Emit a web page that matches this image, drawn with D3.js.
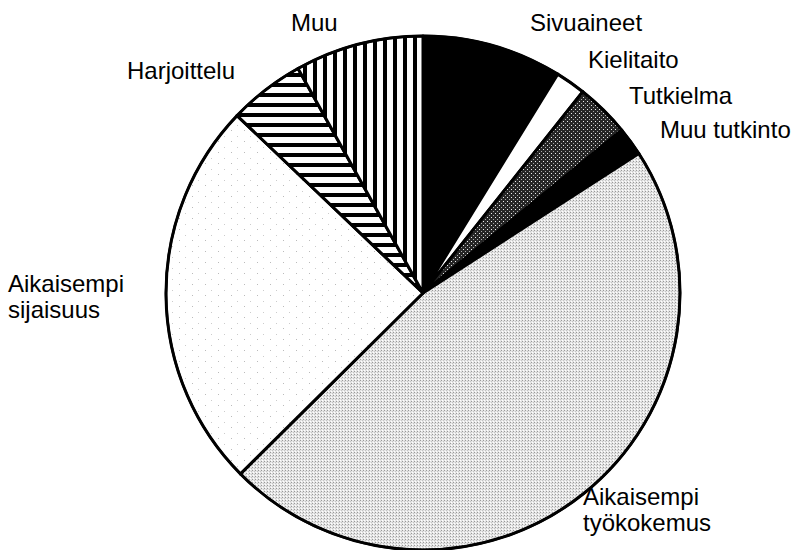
<!DOCTYPE html>
<html>
<head>
<meta charset="utf-8">
<script src="https://cdn.jsdelivr.net/npm/d3@7"></script>
<style>
  body { margin: 0; background: #fff; }
  text { font-family: "Liberation Sans", Arial, Helvetica, sans-serif; fill: #000; }
</style>
</head>
<body>
<div id="chart"></div>
<script>
// shares (percent), clockwise from 12 o'clock
const categories = ["Sivuaineet", "Kielitaito", "Tutkielma", "Muu tutkinto",
    "Aikaisempi työkokemus", "Aikaisempi sijaisuus", "Harjoittelu", "Muu"]
const values = [8.8, 1.9, 3.4, 1.8, 46.8, 24.6, 4.8, 8.1]

// fill for every slice (pattern ids or colours)
const fills = ["#000", "#fff", "url(#darkDots)", "#000",
    "url(#lightDots)", "url(#specks)", "url(#hStripes)", "url(#vStripes)"]

// label layout: lines, x, first baseline
const labelPos = {
    "Sivuaineet": { lines: ["Sivuaineet"], x: 530, y: 31 },
    "Kielitaito": { lines: ["Kielitaito"], x: 588, y: 68 },
    "Tutkielma": { lines: ["Tutkielma"], x: 629, y: 104 },
    "Muu tutkinto": { lines: ["Muu tutkinto"], x: 660, y: 138 },
    "Aikaisempi työkokemus": { lines: ["Aikaisempi", "työkokemus"], x: 583, y: 505 },
    "Aikaisempi sijaisuus": { lines: ["Aikaisempi", "sijaisuus"], x: 8, y: 292 },
    "Harjoittelu": { lines: ["Harjoittelu"], x: 127, y: 79 },
    "Muu": { lines: ["Muu"], x: 291, y: 31 }
}

const W = 806, H = 550
const CX = 423, CY = 293, R = 257

const svg = d3.select("#chart").append("svg")
    .attr("width", W)
    .attr("height", H)

const defs = svg.append("defs")

// vertical stripes
const vs = defs.append("pattern").attr("id", "vStripes")
    .attr("patternUnits", "userSpaceOnUse").attr("width", 10).attr("height", 10)
vs.append("rect").attr("width", 10).attr("height", 10).attr("fill", "#fff")
vs.append("rect").attr("x", 0).attr("width", 4).attr("height", 10).attr("fill", "#000")

// horizontal stripes
const hs = defs.append("pattern").attr("id", "hStripes")
    .attr("patternUnits", "userSpaceOnUse").attr("width", 10).attr("height", 10)
hs.append("rect").attr("width", 10).attr("height", 10).attr("fill", "#fff")
hs.append("rect").attr("y", 0).attr("width", 10).attr("height", 4).attr("fill", "#000")

// dark stipple
const dd = defs.append("pattern").attr("id", "darkDots")
    .attr("patternUnits", "userSpaceOnUse").attr("width", 4).attr("height", 4)
dd.append("rect").attr("width", 4).attr("height", 4).attr("fill", "#262626")
dd.append("rect").attr("x", 0).attr("y", 0).attr("width", 1).attr("height", 1).attr("fill", "#eee")
dd.append("rect").attr("x", 2).attr("y", 2).attr("width", 1).attr("height", 1).attr("fill", "#aaa")

// light stipple
const ld = defs.append("pattern").attr("id", "lightDots")
    .attr("patternUnits", "userSpaceOnUse").attr("width", 3).attr("height", 3)
ld.append("rect").attr("width", 3).attr("height", 3).attr("fill", "#e6e6e6")
ld.append("rect").attr("x", 0).attr("y", 0).attr("width", 1).attr("height", 1).attr("fill", "#999")
ld.append("rect").attr("x", 2).attr("y", 1).attr("width", 1).attr("height", 1).attr("fill", "#c4c4c4")
ld.append("rect").attr("x", 1).attr("y", 2).attr("width", 1).attr("height", 1).attr("fill", "#fff")

// sparse specks
const sp = defs.append("pattern").attr("id", "specks")
    .attr("patternUnits", "userSpaceOnUse").attr("width", 13).attr("height", 11)
sp.append("rect").attr("width", 13).attr("height", 11).attr("fill", "#fff")
sp.append("rect").attr("x", 3).attr("y", 2).attr("width", 1).attr("height", 1).attr("fill", "#bbb")
sp.append("rect").attr("x", 9).attr("y", 8).attr("width", 1).attr("height", 1).attr("fill", "#ccc")

const g = svg.append("g")
    .attr("transform", `translate(${CX}, ${CY})`)

const pie = d3.pie().sort(null).value(d => d.value)
const arc = d3.arc().innerRadius(0).outerRadius(R)

const data = categories.map((c, i) => ({ name: c, value: values[i], fill: fills[i] }))

g.selectAll("path.slice")
    .data(pie(data))
    .enter().append("path")
    .attr("class", "slice")
    .attr("d", arc)
    .attr("fill", d => d.data.fill)
    .attr("stroke", "#000")
    .attr("stroke-width", 3)
    .attr("stroke-linejoin", "round")

g.append("circle")
    .attr("r", R)
    .attr("fill", "none")
    .attr("stroke", "#000")
    .attr("stroke-width", 2.4)

// labels
categories.forEach(c => {
    const p = labelPos[c]
    const t = svg.append("text")
        .attr("x", p.x)
        .attr("y", p.y)
        .attr("font-size", "24px")
    p.lines.forEach((l, i) => {
        t.append("tspan")
            .attr("x", p.x)
            .attr("dy", i === 0 ? 0 : 26)
            .text(l)
    })
})
</script>
</body>
</html>
